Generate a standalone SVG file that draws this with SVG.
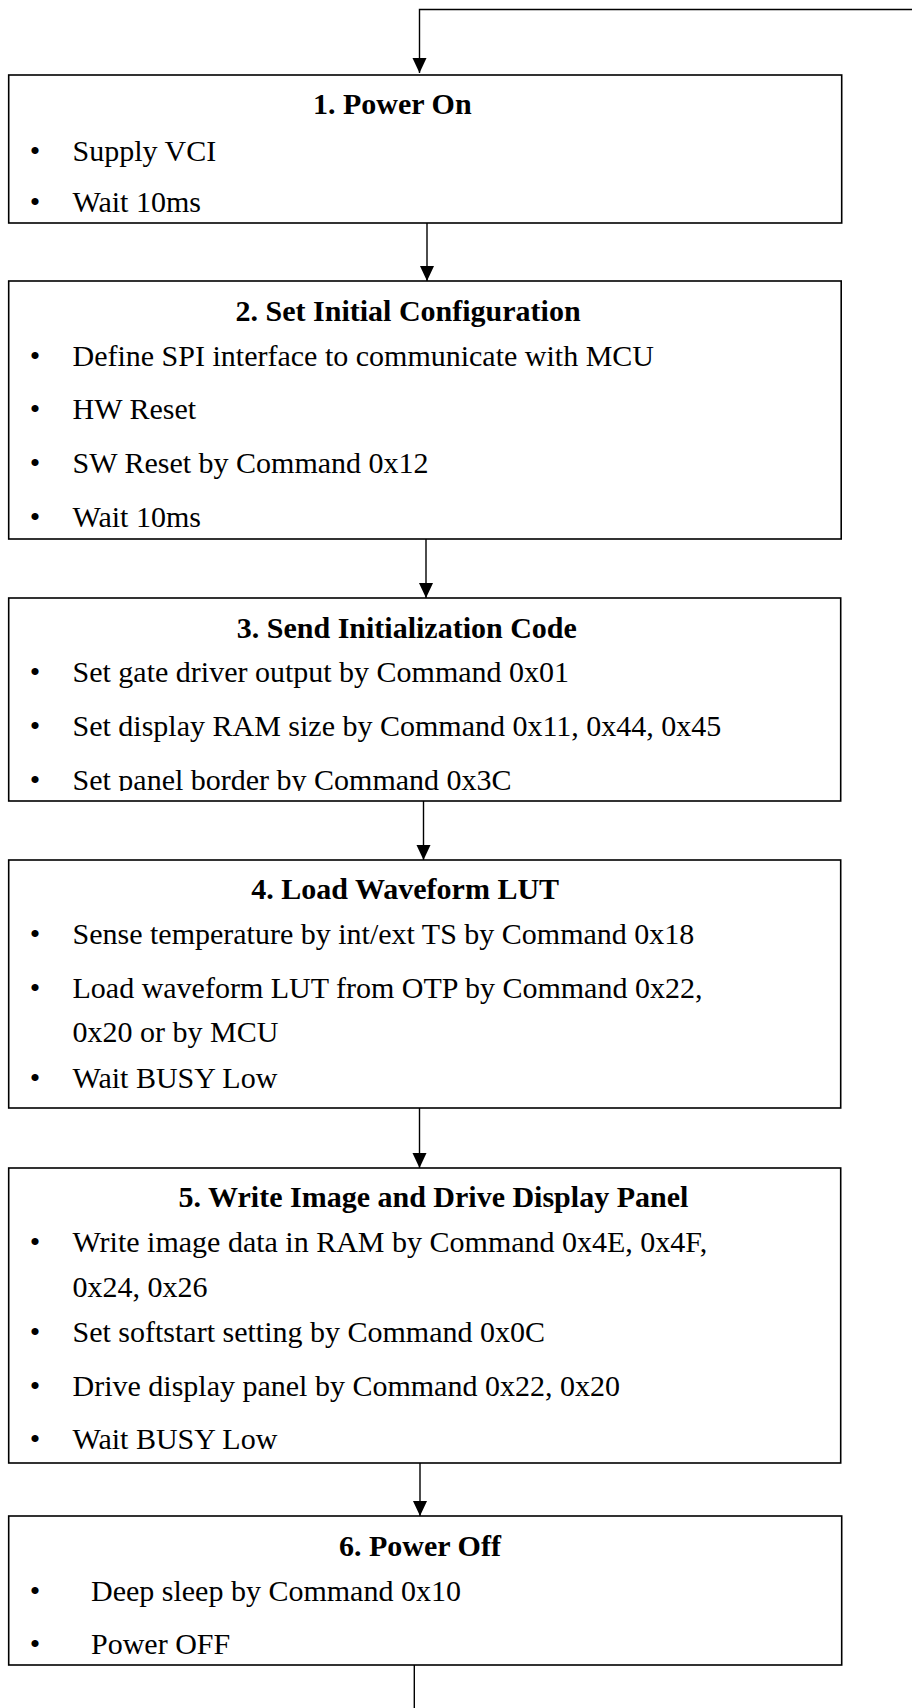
<svg xmlns="http://www.w3.org/2000/svg" width="912" height="1708" viewBox="0 0 912 1708">
<style>
.box{fill:#fff;stroke:#000;stroke-width:1.6}
.t{font-family:"Liberation Serif","Times New Roman",serif;font-size:30px;font-weight:bold;fill:#000}
.b{font-family:"Liberation Serif","Times New Roman",serif;font-size:30px;fill:#000}
.d{font-family:"Liberation Serif","Times New Roman",serif;font-size:30px;fill:#000;text-anchor:middle}
.c{fill:none;stroke:#000;stroke-width:1.4}
</style>
<defs>
<marker id="ah" markerUnits="userSpaceOnUse" markerWidth="16" markerHeight="16" refX="15" refY="7" orient="auto">
<path d="M0,0 L15,7 L0,14 z" fill="#000"/>
</marker>
<clipPath id="clip3"><rect x="0" y="598" width="912" height="193"/></clipPath>
</defs>
<rect width="912" height="1708" fill="#fff"/>
<g id="connectors">
<path class="c" d="M912,9.5 H419.5 V73" marker-end="url(#ah)"/>
<path class="c" d="M427,223 V281" marker-end="url(#ah)"/>
<path class="c" d="M426,539 V598" marker-end="url(#ah)"/>
<path class="c" d="M423.5,801 V860" marker-end="url(#ah)"/>
<path class="c" d="M419.5,1108 V1168" marker-end="url(#ah)"/>
<path class="c" d="M420,1463 V1516" marker-end="url(#ah)"/>
<path class="c" d="M414.3,1665 V1708"/>
</g>
<g id="node1">
<rect class="box" x="8.7" y="75" width="833" height="148"/>
<text class="t" x="313" y="114">1. Power On</text>
<text class="d" x="35" y="160.5">•</text><text class="b" x="72.5" y="160.5">Supply VCI</text>
<text class="d" x="35" y="212">•</text><text class="b" x="72.5" y="212">Wait 10ms</text>
</g>
<g id="node2">
<rect class="box" x="8.7" y="281" width="832.5" height="258"/>
<text class="t" x="235.6" y="320.5">2. Set Initial Configuration</text>
<text class="d" x="35" y="366">•</text><text class="b" x="72.5" y="366">Define SPI interface to communicate with MCU</text>
<text class="d" x="35" y="418.5">•</text><text class="b" x="72.5" y="418.5">HW Reset</text>
<text class="d" x="35" y="472.5">•</text><text class="b" x="72.5" y="472.5">SW Reset by Command 0x12</text>
<text class="d" x="35" y="526.5">•</text><text class="b" x="72.5" y="526.5">Wait 10ms</text>
</g>
<g id="node3">
<rect class="box" x="8.7" y="598" width="832" height="203"/>
<text class="t" x="236.8" y="637.5">3. Send Initialization Code</text>
<text class="d" x="35" y="681.5">•</text><text class="b" x="72.5" y="681.5">Set gate driver output by Command 0x01</text>
<text class="d" x="35" y="735.5">•</text><text class="b" x="72.5" y="735.5">Set display RAM size by Command 0x11, 0x44, 0x45</text>
<g clip-path="url(#clip3)">
<text class="d" x="35" y="789.5">•</text><text class="b" x="72.5" y="789.5">Set panel border by Command 0x3C</text>
</g>
</g>
<g id="node4">
<rect class="box" x="8.7" y="860" width="832" height="248"/>
<text class="t" x="251.3" y="899">4. Load Waveform LUT</text>
<text class="d" x="35" y="944">•</text><text class="b" x="72.5" y="944">Sense temperature by int/ext TS by Command 0x18</text>
<text class="d" x="35" y="997.5">•</text><text class="b" x="72.5" y="997.5">Load waveform LUT from OTP by Command 0x22,</text>
<text class="b" x="72.5" y="1042">0x20 or by MCU</text>
<text class="d" x="35" y="1087.5">•</text><text class="b" x="72.5" y="1087.5">Wait BUSY Low</text>
</g>
<g id="node5">
<rect class="box" x="8.7" y="1168" width="832" height="295"/>
<text class="t" x="178.6" y="1207">5. Write Image and Drive Display Panel</text>
<text class="d" x="35" y="1251.5">•</text><text class="b" x="72.5" y="1251.5">Write image data in RAM by Command 0x4E, 0x4F,</text>
<text class="b" x="72.5" y="1296.5">0x24, 0x26</text>
<text class="d" x="35" y="1341.5">•</text><text class="b" x="72.5" y="1341.5">Set softstart setting by Command 0x0C</text>
<text class="d" x="35" y="1396">•</text><text class="b" x="72.5" y="1396">Drive display panel by Command 0x22, 0x20</text>
<text class="d" x="35" y="1449">•</text><text class="b" x="72.5" y="1449">Wait BUSY Low</text>
</g>
<g id="node6">
<rect class="box" x="8.7" y="1516" width="833" height="149"/>
<text class="t" x="339" y="1555.5">6. Power Off</text>
<text class="d" x="35" y="1601">•</text><text class="b" x="91" y="1601">Deep sleep by Command 0x10</text>
<text class="d" x="35" y="1654">•</text><text class="b" x="91" y="1654">Power OFF</text>
</g>
</svg>
